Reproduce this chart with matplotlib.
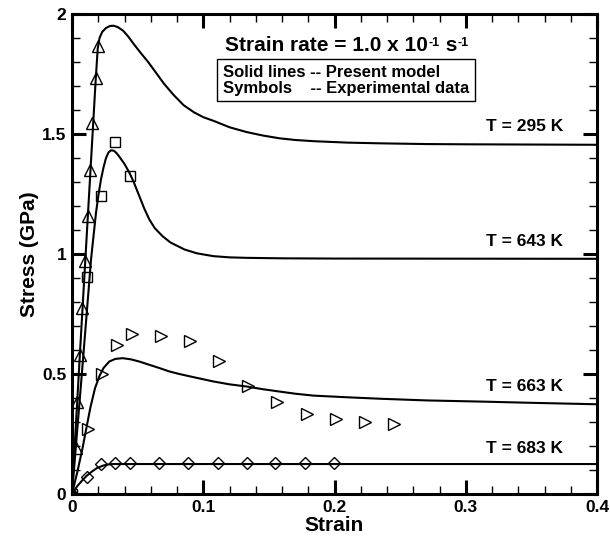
import numpy as np
import matplotlib
matplotlib.use("Agg")
import matplotlib.pyplot as plt
from matplotlib.ticker import MultipleLocator

TICK_SIZE = 12.5
FONT_SIZE = 12.5
LABEL_SIZE = 15
TITLE_SIZE = 15
SUP_SIZE = 9
plt.rcParams["font.family"] = "Liberation Sans"
plt.rcParams["font.weight"] = "bold"

# ------------------------------------------------------------------ #
# Model curves
# ------------------------------------------------------------------ #
strain_295 = [0, 0.006, 0.012, 0.016, 0.018, 0.0196, 0.021, 0.023, 0.026, 0.029, 0.0317, 0.035,
              0.039, 0.043, 0.047, 0.052, 0.058, 0.064, 0.070, 0.077, 0.085, 0.093, 0.100,
              0.1077, 0.120, 0.133, 0.145, 0.158, 0.170, 0.184, 0.210, 0.235, 0.270, 0.300,
              0.350, 0.400]
stress_295 = [0, 0.58, 1.15, 1.53, 1.72, 1.855, 1.90, 1.925, 1.942, 1.950, 1.951, 1.945,
              1.930, 1.905, 1.875, 1.840, 1.800, 1.755, 1.710, 1.665, 1.620, 1.590, 1.570,
              1.555, 1.528, 1.508, 1.494, 1.482, 1.475, 1.470, 1.464, 1.461, 1.458, 1.457,
              1.456, 1.455]

strain_643 = [0, 0.0075, 0.0125, 0.0145, 0.0165, 0.0183, 0.020, 0.0221, 0.024, 0.0259, 0.0278,
              0.0297, 0.032, 0.034, 0.036, 0.040, 0.0437, 0.047, 0.0513, 0.055, 0.0589, 0.063,
              0.069, 0.075, 0.0856, 0.095, 0.1077, 0.120, 0.133, 0.160, 0.200, 0.400]
stress_643 = [0, 0.50, 0.84, 0.977, 1.08, 1.172, 1.24, 1.311, 1.36, 1.40, 1.423,
              1.432, 1.430, 1.420, 1.406, 1.375, 1.339, 1.300, 1.241, 1.190, 1.144, 1.108,
              1.074, 1.048, 1.019, 1.003, 0.991, 0.986, 0.984, 0.982, 0.981, 0.980]

strain_663 = [0, 0.004, 0.008, 0.0107, 0.014, 0.0175, 0.0208, 0.024, 0.0284, 0.033, 0.0386,
              0.045, 0.0513, 0.058, 0.0665, 0.074, 0.0818, 0.095, 0.1077, 0.120, 0.133, 0.145,
              0.158, 0.170, 0.184, 0.210, 0.2347, 0.270, 0.313, 0.350, 0.400]
stress_663 = [0, 0.09, 0.19, 0.267, 0.36, 0.44, 0.49, 0.525, 0.552, 0.563, 0.566,
              0.561, 0.552, 0.540, 0.525, 0.511, 0.500, 0.484, 0.469, 0.457, 0.448, 0.437,
              0.427, 0.418, 0.410, 0.403, 0.397, 0.390, 0.385, 0.380, 0.374]

strain_683 = [0, 0.004, 0.008, 0.0112, 0.015, 0.019, 0.0234, 0.027, 0.031, 0.040, 0.400]
stress_683 = [0, 0.033, 0.058, 0.076, 0.093, 0.108, 0.118, 0.123, 0.125, 0.125, 0.125]

# ------------------------------------------------------------------ #
# Experimental data (symbols)
# ------------------------------------------------------------------ #
exp_strain_295 = [0, 0.0028, 0.0041, 0.0061, 0.0079, 0.0099, 0.0124, 0.0137, 0.0155, 0.018, 0.0196]
exp_stress_295 = [0, 0.19, 0.385, 0.58, 0.775, 0.97, 1.16, 1.35, 1.544, 1.733, 1.868]

exp_strain_643 = [0, 0.0112, 0.0221, 0.033, 0.0444]
exp_stress_643 = [0, 0.905, 1.241, 1.467, 1.325]

exp_strain_663 = [0, 0.0124, 0.0228, 0.034, 0.0455, 0.0678, 0.0899, 0.1122, 0.1343, 0.1565,
                  0.1788, 0.2009, 0.2232, 0.2453]
exp_stress_663 = [0, 0.27, 0.50, 0.62, 0.665, 0.657, 0.636, 0.553, 0.452, 0.383,
                  0.334, 0.313, 0.299, 0.291]

exp_strain_683 = [0, 0.0112, 0.0221, 0.033, 0.0444, 0.0665, 0.0886, 0.111, 0.133, 0.155,
                  0.1775, 0.1996]
exp_stress_683 = [0, 0.07, 0.125, 0.128, 0.128, 0.128, 0.128, 0.128, 0.128, 0.128,
                  0.128, 0.128]

temp_labels = ["T = 295 K", "T = 643 K", "T = 663 K", "T = 683 K"]
label_y = [1.53, 1.05, 0.447, 0.188]

fig = plt.figure(figsize=(6.1, 5.37), dpi=100)
ax = fig.add_axes([0.118, 0.080, 0.861, 0.894])
for axis in ["top", "bottom", "left", "right"]:
    ax.spines[axis].set_linewidth(2.2)

ax.plot(strain_295, stress_295, color="black", linewidth=1.5)
ax.plot(strain_643, stress_643, color="black", linewidth=1.5)
ax.plot(strain_663, stress_663, color="black", linewidth=1.5)
ax.plot(strain_683, stress_683, color="black", linewidth=1.5)

mk = dict(linestyle="none", markerfacecolor="none", markeredgecolor="black",
          markeredgewidth=1.0, markersize=8)
ax.plot(exp_strain_295, exp_stress_295, marker="^", **mk)
ax.plot(exp_strain_643, exp_stress_643, marker="s", **dict(mk, markersize=6.5))
ax.plot(exp_strain_663, exp_stress_663, marker=">", **mk)
ax.plot(exp_strain_683, exp_stress_683, marker="D", **dict(mk, markersize=6.5))

for t, yy in zip(temp_labels, label_y):
    ax.text(0.374, yy, t, ha="right", va="center", fontsize=FONT_SIZE, fontweight="bold")

# title line with small superscripts, pieced together
t1 = ax.text(0.1166, 1.846, "Strain rate = 1.0 x 10", ha="left", va="baseline",
             fontsize=TITLE_SIZE, fontweight="bold")
s1 = ax.annotate("-1", xy=(1, 0.93), xycoords=t1, xytext=(0.5, 0), textcoords="offset points",
                 ha="left", va="top", fontsize=SUP_SIZE, fontweight="bold")
t2 = ax.annotate(" s", xy=(1, 0), xycoords=(s1, t1), ha="left", va="bottom",
                 fontsize=TITLE_SIZE, fontweight="bold")
ax.annotate("-1", xy=(1, 0.93), xycoords=t2, xytext=(0.5, 0), textcoords="offset points",
            ha="left", va="top", fontsize=SUP_SIZE, fontweight="bold")

ax.text(0.1151, 1.724, "Solid lines -- Present model\nSymbols    -- Experimental data",
        ha="left", va="center", fontsize=12, fontweight="bold", linespacing=1.05,
        bbox=dict(boxstyle="square,pad=0.35", facecolor="white", edgecolor="black", linewidth=1))

ax.set_xlim(0, 0.4)
ax.set_ylim(0, 2)
ax.xaxis.set_major_locator(MultipleLocator(0.1))
ax.xaxis.set_minor_locator(MultipleLocator(0.02))
ax.yaxis.set_major_locator(MultipleLocator(0.5))
ax.yaxis.set_minor_locator(MultipleLocator(0.1))
ax.set_xticks([0, 0.1, 0.2, 0.3, 0.4], ["0", "0.1", "0.2", "0.3", "0.4"])
ax.set_yticks([0, 0.5, 1, 1.5, 2], ["0", "0.5", "1", "1.5", "2"])
ax.tick_params(which="both", direction="in", top=True, right=True, labelsize=TICK_SIZE)
ax.tick_params(which="major", length=10, width=2.2, pad=4)
ax.tick_params(which="minor", length=6, width=1)

ax.set_xlabel("Strain", fontsize=LABEL_SIZE, fontweight="bold")
ax.set_ylabel("Stress (GPa)", fontsize=LABEL_SIZE, fontweight="bold")
ax.xaxis.set_label_coords(0.499, -0.046)
ax.yaxis.set_label_coords(-0.063, 0.5)

fig.savefig("out.png", dpi=100)
